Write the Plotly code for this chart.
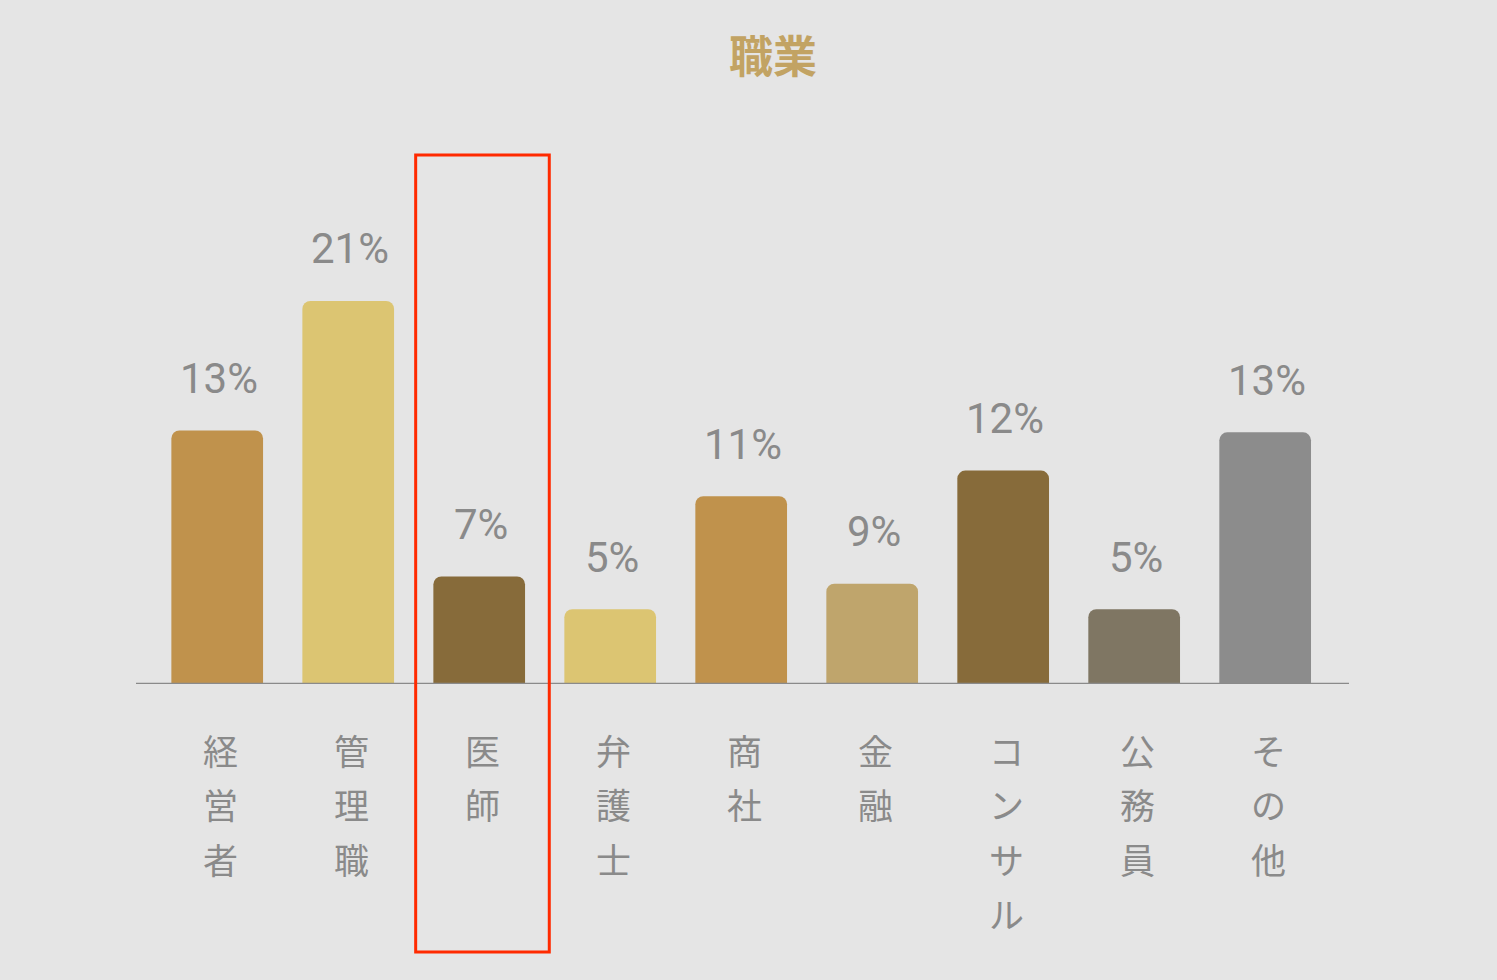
import plotly.graph_objects as go

# ---- data ----
categories = ["経営者", "管理職", "医師", "弁護士", "商社", "金融", "コンサル", "公務員", "その他"]
pct_labels = ["13%", "21%", "7%", "5%", "11%", "9%", "12%", "5%", "13%"]
# bar heights as drawn in the picture (percent units)
bar_values = [13.9, 21.0, 5.9, 4.1, 10.3, 5.5, 11.7, 4.1, 13.8]
bar_colors = ["#c0924c", "#dcc572", "#876b3a", "#dcc572", "#c0924c",
              "#bfa56c", "#876b3a", "#7f7663", "#8c8c8c"]
highlight_index = 2
title_text = "職業"

# ---- layout constants ----
W, H = 1497, 980
ml, mr, mt, mb = 136, 148, 150, 296
xr = [-0.62, 8.64]
plot_h = H - mt - mb
px_per_unit = 18.24
yr = [0, plot_h / px_per_unit]
gray = "#8a8a8a"
bg = "#e5e5e5"

x_idx = list(range(len(categories)))

fig = go.Figure(go.Bar(
    x=x_idx, y=bar_values, width=0.70,
    marker=dict(color=bar_colors, line=dict(width=0), cornerradius=8),
    hoverinfo="skip",
))

annotations = []
# percentage labels
for i, (v, t) in enumerate(zip(bar_values, pct_labels)):
    annotations.append(dict(x=i, y=v, xref="x", yref="y", text=t, showarrow=False,
                            yanchor="middle", yshift=52, xshift=2,
                            font=dict(family="Roboto", size=42, color=gray)))
# vertical category labels (one character per line)
pitch = 54.5
start = 65
for i, cat in enumerate(categories):
    for j, ch in enumerate(cat):
        annotations.append(dict(x=i, y=0, xref="x", yref="paper", text=ch, showarrow=False,
                                yanchor="middle", xanchor="center",
                                yshift=-(start + j * pitch), xshift=3,
                                font=dict(family="Noto Sans CJK JP", size=35, color=gray)))

# highlight rectangle around one category
span = xr[1] - xr[0]
hx0 = (highlight_index - 0.485 - xr[0]) / span
hx1 = (highlight_index + 0.535 - xr[0]) / span
shapes = [
    dict(type="line", xref="paper", yref="y", x0=0, x1=1, y0=0, y1=0,
         line=dict(color=gray, width=2.5)),
    dict(type="rect", xref="paper", yref="paper", x0=hx0, x1=hx1,
         y0=(H - mb - 155) / plot_h, y1=(H - mb - 952) / plot_h,
         line=dict(color="#ff2a00", width=3), fillcolor="rgba(0,0,0,0)"),
]

fig.update_layout(
    width=W, height=H,
    margin=dict(l=ml, r=mr, t=mt, b=mb),
    paper_bgcolor=bg, plot_bgcolor=bg,
    showlegend=False,
    bargap=0.3,
    title=dict(text="<b>" + title_text + "</b>", x=773 / W, xanchor="center",
               y=1 - 58 / H, yanchor="middle",
               font=dict(family="Noto Sans CJK JP", size=44, color="#c2a363")),
    xaxis=dict(range=xr, visible=False, fixedrange=True),
    yaxis=dict(range=yr, visible=False, fixedrange=True),
    annotations=annotations,
    shapes=shapes,
)

fig.write_html("out.html", config={"displayModeBar": False},
               post_script="document.body.style.margin='0';document.body.style.overflow='hidden';document.body.style.background='#e5e5e5';")
